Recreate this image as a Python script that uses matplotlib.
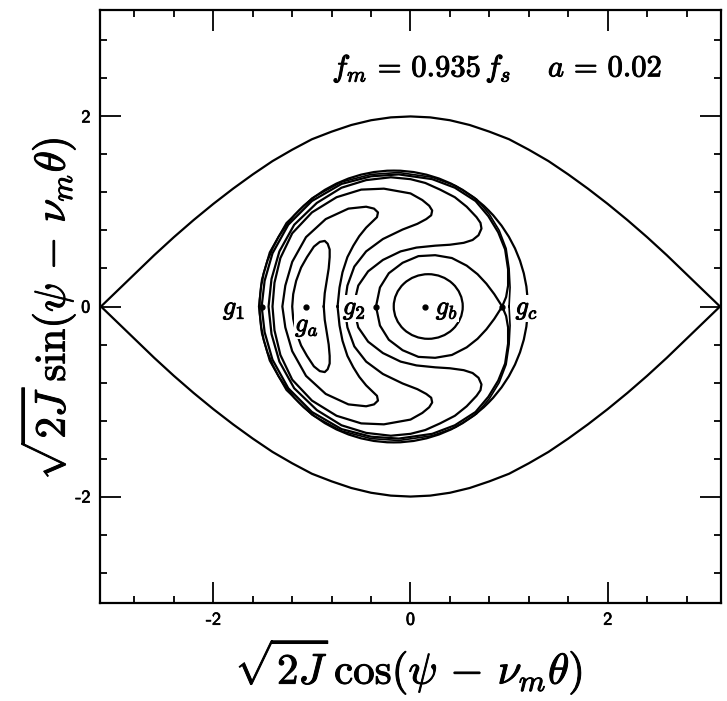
import matplotlib
matplotlib.use("Agg")
import matplotlib.pyplot as plt
import matplotlib.patheffects as pe
import numpy as np
from matplotlib.patches import Ellipse
from matplotlib.ticker import MultipleLocator

plt.rcParams['mathtext.fontset'] = 'cm'
plt.rcParams['axes.unicode_minus'] = False

# outer separatrix (upper half, mirrored below)
eye_x = [-3.14, -3.0, -2.8, -2.6, -2.4, -2.2, -2.0, -1.8, -1.6, -1.4, -1.2, -1.0, -0.8, -0.6, -0.4, -0.2, 0.0,
         0.2, 0.4, 0.6, 0.8, 1.0, 1.2, 1.4, 1.6, 1.8, 2.0, 2.2, 2.4, 2.6, 2.8, 3.0, 3.14]
eye_y = [0.0, 0.14, 0.34, 0.54, 0.73, 0.91, 1.08, 1.24, 1.39, 1.53, 1.65, 1.76, 1.84, 1.91, 1.96, 1.99, 2.0,
         1.99, 1.96, 1.91, 1.84, 1.76, 1.65, 1.53, 1.39, 1.24, 1.08, 0.91, 0.73, 0.54, 0.34, 0.14, 0.0]

# island around g_a (upper halves)
banana_x = [-0.88, -0.87, -0.85, -0.83, -0.82, -0.82, -0.84, -0.87, -0.92, -0.98, -1.05, -1.11, -1.16, -1.19, -1.20]
banana_y = [0.00, 0.14, 0.27, 0.40, 0.52, 0.60, 0.66, 0.69, 0.68, 0.63, 0.52, 0.41, 0.27, 0.13, 0.00]

c2_x = [-0.74, -0.72, -0.69, -0.64, -0.58, -0.52, -0.45, -0.39, -0.34, -0.33, -0.37, -0.45, -0.63, -0.86,
        -1.06, -1.20, -1.27, -1.30]
c2_y = [0.00, 0.20, 0.36, 0.52, 0.64, 0.74, 0.83, 0.89, 0.94, 0.99, 1.03, 1.05, 1.03, 0.92, 0.73, 0.47, 0.22, 0.00]

c3_x = [-0.67, -0.64, -0.57, -0.45, -0.28, -0.08, 0.07, 0.16, 0.21, 0.22, 0.19, 0.12, 0.00, -0.27, -0.50,
        -0.75, -1.00, -1.20, -1.32, -1.38, -1.40]
c3_y = [0.00, 0.22, 0.42, 0.58, 0.71, 0.81, 0.87, 0.92, 0.96, 1.01, 1.06, 1.12, 1.19, 1.24, 1.23, 1.15, 0.99,
        0.77, 0.51, 0.25, 0.00]

c4_x = [-0.58, -0.53, -0.43, -0.28, -0.10, 0.06, 0.25, 0.40, 0.54, 0.63, 0.69, 0.72, 0.71, 0.67, 0.57, 0.45,
        0.30, 0.15, 0.00, -0.20, -0.45, -0.70, -0.95, -1.18, -1.33, -1.41, -1.44]
c4_y = [0.00, 0.22, 0.37, 0.49, 0.58, 0.62, 0.64, 0.65, 0.67, 0.70, 0.75, 0.82, 0.88, 0.94, 1.05, 1.15, 1.23,
        1.30, 1.34, 1.36, 1.33, 1.25, 1.09, 0.86, 0.58, 0.29, 0.00]

# loop around g_b between g_2 and g_c
fish_x = [-0.35, -0.31, -0.22, -0.08, 0.08, 0.25, 0.42, 0.57, 0.68, 0.77, 0.85, 0.93]
fish_y = [0.00, 0.20, 0.35, 0.46, 0.53, 0.54, 0.51, 0.43, 0.34, 0.24, 0.13, 0.00]

# outer branch from g_c round to g_1
ring_x = [0.93, 0.97, 0.99, 0.99, 0.96, 0.89, 0.79, 0.66, 0.45, 0.22, -0.12, -0.40, -0.70, -1.00, -1.24,
          -1.40, -1.48, -1.51]
ring_y = [0.00, 0.10, 0.22, 0.39, 0.60, 0.78, 0.95, 1.11, 1.25, 1.34, 1.39, 1.37, 1.29, 1.11, 0.86, 0.56,
          0.27, 0.00]

# torus just outside it, hugging g_c
ring2_x = [1.00, 1.01, 1.00, 0.97, 0.90, 0.80, 0.67, 0.46, 0.22, -0.12, -0.40, -0.70, -1.00, -1.26, -1.43,
           -1.51, -1.54]
ring2_y = [0.00, 0.20, 0.40, 0.61, 0.80, 0.97, 1.13, 1.27, 1.36, 1.41, 1.39, 1.31, 1.14, 0.88, 0.57, 0.28, 0.00]

# ellipses: outermost torus and the curve round g_b
outer_c, outer_w, outer_h = (-0.17, 0.0), 2.72, 2.86
inner_c, inner_w, inner_h = (0.18, 0.0), 0.70, 0.68

pt_names = ["$g_1$", "$g_a$", "$g_2$", "$g_b$", "$g_c$"]
pt_x = [-1.51, -1.06, -0.35, 0.15, 0.93]
lab_x = [-1.79, -1.05, -0.57, 0.37, 1.18]
lab_y = [-0.02, -0.20, -0.02, -0.02, -0.02]


def closed(xs, ys):
    xs = np.asarray(xs); ys = np.asarray(ys)
    return np.concatenate([xs, xs[::-1][1:]]), np.concatenate([ys, -ys[::-1][1:]])


bold = [pe.withStroke(linewidth=0.7, foreground='k')]

fig = plt.figure(figsize=(7.27, 7.01), dpi=100)
ax = fig.add_axes([100/727, 98/701, 621/727, 593/701])
lw = 1.6

ax.plot(eye_x, eye_y, color='k', lw=lw)
ax.plot(eye_x, -np.array(eye_y), color='k', lw=lw)

for xs, ys in [(banana_x, banana_y), (c2_x, c2_y), (c3_x, c3_y), (c4_x, c4_y),
               (fish_x, fish_y), (ring_x, ring_y)]:
    cx, cy = closed(xs, ys)
    ax.plot(cx, cy, color='k', lw=lw)
cx, cy = closed(ring2_x, ring2_y)
ax.plot(cx, cy, color='k', lw=1.2)

ax.add_patch(Ellipse(outer_c, outer_w, outer_h, fill=False, color='k', lw=lw))
ax.add_patch(Ellipse(inner_c, inner_w, inner_h, fill=False, color='k', lw=lw))

ax.plot(pt_x, [0]*len(pt_x), 'o', color='k', ms=3.5)
for name, x, y in zip(pt_names, lab_x, lab_y):
    ax.text(x, y, name, fontsize=19, ha='center', va='center', path_effects=bold,
            bbox=dict(facecolor='white', edgecolor='none', pad=0.5))

ax.text(0.88, 2.51, r"$f_m\,=\,0.935\,f_s\quad\ a\,=\,0.02$", fontsize=22, ha='center', va='center',
        path_effects=bold)

ax.set_xlim(-3.15, 3.15)
ax.set_ylim(-3.12, 3.12)
ax.xaxis.set_major_locator(MultipleLocator(2))
ax.xaxis.set_minor_locator(MultipleLocator(0.4))
ax.yaxis.set_major_locator(MultipleLocator(2))
ax.yaxis.set_minor_locator(MultipleLocator(0.4))
ax.tick_params(which='both', direction='in', top=True, right=True, width=1.3)
ax.tick_params(which='major', length=15, labelsize=13, pad=7)
ax.tick_params(which='minor', length=5)
for lab in ax.get_xticklabels() + ax.get_yticklabels():
    lab.set_fontfamily('cmss10')
    lab.set_path_effects([pe.withStroke(linewidth=0.5, foreground='k')])
for s in ax.spines.values():
    s.set_linewidth(1.6)

fig.text(408/727, 1 - 667/701, r"$\sqrt{2J}\,\cos(\psi\,-\,\nu_m\theta)$", fontsize=31,
         ha='center', va='center', path_effects=bold)
fig.text(48/727, 1 - 310/701, r"$\sqrt{2J}\,\sin(\psi\,-\,\nu_m\theta)$", fontsize=31,
         ha='center', va='center', rotation=90, path_effects=bold)

fig.savefig("out.png", dpi=100)
